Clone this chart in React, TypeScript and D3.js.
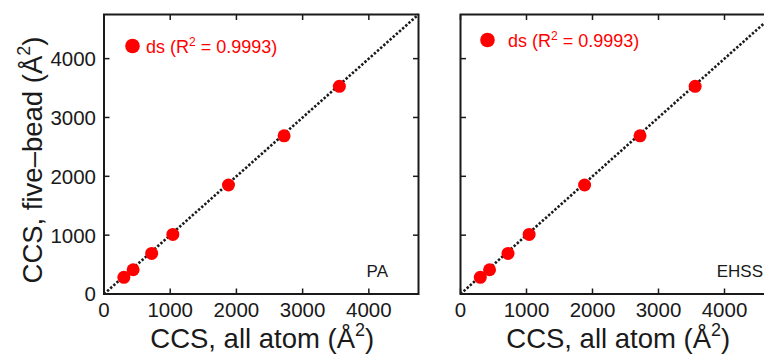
import React from "react";
import * as d3 from "d3";

const allAtom = [300, 440, 720, 1040, 1880, 2720, 3555];
const fiveBead = [283, 412, 690, 1012, 1852, 2688, 3530];
const tickValues = [0, 1000, 2000, 3000, 4000];
const panels = ["PA", "EHSS"];
const legendLabel = "ds (R";
const legendValue = " = 0.9993)";
const domainMax = 4750;

const W = 764;
const H = 354;
const FONT = "'Liberation Sans', Arial, Helvetica, sans-serif";
const RED = "#ff0000";
const INK = "#1a1a1a";

type PanelCfg = {
  left: number;
  right: number;
  legendDot: [number, number];
  legendText: [number, number];
  labelX: number;
  showY: boolean;
};

const cfgs: PanelCfg[] = [
  { left: 104, right: 418.5, legendDot: [132.5, 46], legendText: [146, 52.5], labelX: 388, showY: true },
  { left: 460.5, right: 774, legendDot: [487.5, 40], legendText: [508, 46.5], labelX: 763, showY: false },
];

const top = 14.5;
const bottom = 294;

function Panel({ cfg, label }: { cfg: PanelCfg; label: string }) {
  const x = d3.scaleLinear().domain([0, domainMax]).range([cfg.left, cfg.right]);
  const y = d3.scaleLinear().domain([0, domainMax]).range([bottom, top]);
  const tl = 5.5;
  const line = d3.line<[number, number]>().x((d) => x(d[0])).y((d) => y(d[1]));
  return (
    <g>
      <path d={line([[0, 0], [domainMax, domainMax]]) || ""} stroke={INK} strokeWidth={2.6} strokeDasharray="2.4,1.8" fill="none" />
      {tickValues.map((t) => (
        <g key={"x" + t}>
          <line x1={x(t)} x2={x(t)} y1={bottom} y2={bottom - tl} stroke={INK} strokeWidth={1.5} />
          <line x1={x(t)} x2={x(t)} y1={top} y2={top + tl} stroke={INK} strokeWidth={1.5} />
          <text x={x(t)} y={317} textAnchor="middle" fontSize={20.5} fill={INK} fontFamily={FONT}>
            {t}
          </text>
        </g>
      ))}
      {tickValues.map((t) => (
        <g key={"y" + t}>
          <line x1={cfg.left} x2={cfg.left + tl} y1={y(t)} y2={y(t)} stroke={INK} strokeWidth={1.5} />
          <line x1={cfg.right} x2={cfg.right - tl} y1={y(t)} y2={y(t)} stroke={INK} strokeWidth={1.5} />
          {cfg.showY && (
            <text x={cfg.left - 8} y={y(t)} dy="0.36em" textAnchor="end" fontSize={20.5} fill={INK} fontFamily={FONT}>
              {t}
            </text>
          )}
        </g>
      ))}
      <rect x={cfg.left} y={top} width={cfg.right - cfg.left} height={bottom - top} fill="none" stroke={INK} strokeWidth={2} />
      {allAtom.map((v, i) => (
        <circle key={i} cx={x(v)} cy={y(fiveBead[i])} r={6.5} fill={RED} />
      ))}
      <circle cx={cfg.legendDot[0]} cy={cfg.legendDot[1]} r={7.3} fill={RED} />
      <text x={cfg.legendText[0]} y={cfg.legendText[1]} fontSize={18} fill={RED} fontFamily={FONT}>
        {legendLabel}
        <tspan fontSize={12} dy={-7}>2</tspan>
        <tspan dy={7}>{legendValue}</tspan>
      </text>
      <text x={cfg.labelX} y={277} textAnchor="end" fontSize={17} fill={INK} fontFamily={FONT}>
        {label}
      </text>
      <text x={(cfg.left + cfg.right) / 2 + 1} y={347.5} textAnchor="middle" fontSize={27.5} fill={INK} fontFamily={FONT}>
        CCS, all atom (Å
        <tspan fontSize={18} dy={-12}>2</tspan>
        <tspan dy={12}>)</tspan>
      </text>
    </g>
  );
}

export default function App() {
  return (
    <svg width={W} height={H} style={{ position: "absolute", left: 0, top: 0, background: "#fff" }}>
      <rect width={W} height={H} fill="#fff" />
      {cfgs.map((c, i) => (
        <Panel key={i} cfg={c} label={panels[i]} />
      ))}
      <text transform="translate(42,160) rotate(-90)" textAnchor="middle" fontSize={27.5} fill={INK} fontFamily={FONT}>
        CCS, five–bead (Å
        <tspan fontSize={18} dy={-12}>2</tspan>
        <tspan dy={12}>)</tspan>
      </text>
    </svg>
  );
}
